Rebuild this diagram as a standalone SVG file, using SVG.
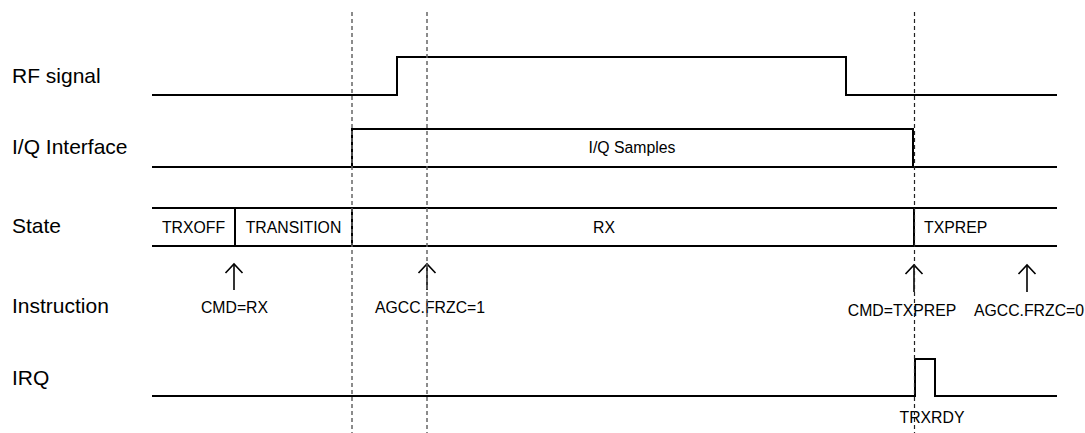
<svg xmlns="http://www.w3.org/2000/svg" width="1085" height="433" viewBox="0 0 1085 433">
<style>
.lbl{font-family:"Liberation Sans",Arial,sans-serif;font-size:21px;fill:#000}
.txt{font-family:"Liberation Sans",Arial,sans-serif;font-size:15.8px;fill:#000}
.mid{text-anchor:middle}
.sig{fill:none;stroke:#000;stroke-width:2}
.dash{fill:none;stroke:#666;stroke-width:1.5;stroke-dasharray:4,3}
.arr{fill:none;stroke:#000;stroke-width:1.6}
</style>
<rect width="1085" height="433" fill="#fff"/>
<g id="labels">
<text class="lbl" x="12" y="83">RF signal</text>
<text class="lbl" x="12" y="154">I/Q Interface</text>
<text class="lbl" x="12" y="233">State</text>
<text class="lbl" x="12" y="313">Instruction</text>
<text class="lbl" x="12" y="385">IRQ</text>
</g>
<g id="rf-signal">
<polyline class="sig" points="152,95 397,95 397,57 846,57 846,95 1057,95"/>
</g>
<g id="iq-interface">
<polyline class="sig" points="152,167 352,167 352,129 913,129 913,167 1057,167"/>
<line class="sig" x1="352" y1="167" x2="913" y2="167"/>
<text class="txt mid" x="632" y="153">I/Q Samples</text>
</g>
<g id="state">
<line class="sig" x1="152" y1="208" x2="1057" y2="208"/>
<line class="sig" x1="152" y1="246" x2="1057" y2="246"/>
<line class="sig" x1="235" y1="208" x2="235" y2="246"/>
<line class="sig" x1="352" y1="208" x2="352" y2="246"/>
<line class="sig" x1="914" y1="208" x2="914" y2="246"/>
<text class="txt mid" x="193.5" y="233">TRXOFF</text>
<text class="txt mid" x="293.5" y="233">TRANSITION</text>
<text class="txt mid" x="604" y="233">RX</text>
<text class="txt" x="924" y="233">TXPREP</text>
</g>
<g id="instruction">
<g id="cmd-rx">
<polyline class="arr" points="225.5,273 234,264 242.5,273"/>
<line class="arr" x1="234" y1="264" x2="234" y2="290"/>
<text class="txt mid" x="234.5" y="313">CMD=RX</text>
</g>
<g id="agcc-1">
<polyline class="arr" points="418.5,273 427,264 435.5,273"/>
<line class="arr" x1="427" y1="264" x2="427" y2="290"/>
<text class="txt mid" x="430" y="313">AGCC.FRZC=1</text>
</g>
<g id="cmd-txprep">
<polyline class="arr" points="905.5,274 914,265 922.5,274"/>
<line class="arr" x1="914" y1="265" x2="914" y2="292"/>
<text class="txt mid" x="902" y="316">CMD=TXPREP</text>
</g>
<g id="agcc-0">
<polyline class="arr" points="1018.5,274 1027,265 1035.5,274"/>
<line class="arr" x1="1027" y1="265" x2="1027" y2="292"/>
<text class="txt mid" x="1029" y="316">AGCC.FRZC=0</text>
</g>
</g>
<g id="irq">
<polyline class="sig" points="152,396 915,396 915,359 935,359 935,396 1057,396"/>
<text class="txt mid" x="932" y="423">TRXRDY</text>
</g>
<g id="connectors">
<line class="dash" x1="352" y1="12" x2="352" y2="433"/>
<line class="dash" x1="427" y1="12" x2="427" y2="433" stroke="#444"/>
<line class="dash" x1="914.5" y1="12" x2="914.5" y2="433" style="stroke:#222;stroke-width:1.2"/>
</g>
</svg>
